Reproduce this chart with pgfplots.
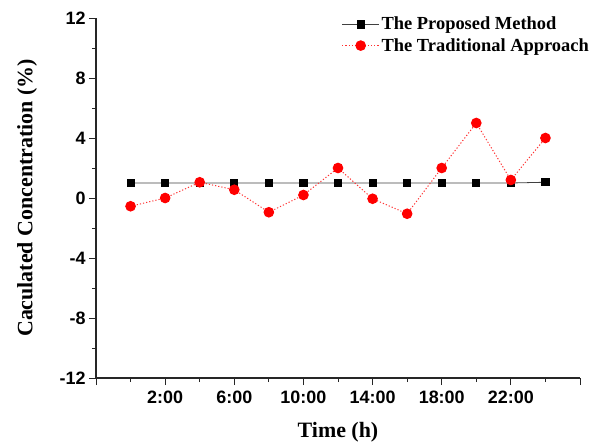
\documentclass[border=0pt]{standalone}
\usepackage{fontspec}
\setmainfont{Liberation Serif}
\newfontfamily\sansb{Liberation Sans}
\usepackage{pgfplots}
\pgfplotsset{compat=1.18}
\usetikzlibrary{calc}
\begin{document}
\begin{tikzpicture}
\begin{axis}[name=ax, scale only axis, width=484bp, height=360bp,
 xmin=-2, xmax=26, ymin=-12, ymax=12,
 axis lines*=left, axis line style={line width=1.1pt, black!85},
 xtick={-2,2,...,26}, xticklabels={,2:00,6:00,10:00,14:00,18:00,22:00,},
 minor xtick={0,4,...,24},
 ytick={-12,-8,...,12}, minor ytick={-10,-6,...,10},
 tick align=outside, major tick length=7bp, minor tick length=4bp,
 tick style={line width=1pt, black!85},
 /pgf/number format/assume math mode=true,
 ticklabel style={font=\fontsize{18}{20}\sansb\bfseries},
 xticklabel style={yshift=-2bp},
 xlabel={Time (h)}, ylabel={Caculated Concentration (\%)},
 xlabel style={at={(axis description cs:0.5,-0.15)}, anchor=center, font=\fontsize{22}{24}\selectfont\bfseries},
 ylabel style={at={(axis description cs:-0.1426,0.5)}, anchor=center, font=\fontsize{22}{24}\selectfont\bfseries},
 legend style={at={(1,1)}, anchor=north east, xshift=14bp, yshift=5bp, draw=none, fill=none,
   font=\fontsize{18.5}{20}\selectfont\bfseries, row sep=3bp},
 legend cell align=left,
 legend image code/.code={\draw[mark repeat=2,mark phase=2] plot coordinates {(0cm,0cm)(0.65cm,0cm)(1.3cm,0cm)};},
 clip=false,
]
\addplot[black!75, line width=0.8pt, mark=square*, mark size=3.6bp, mark options={solid, fill=black, draw=black}]
 coordinates {(0,1.0)(2,1.0)(4,1.0)(6,1.0)(8,1.0)(10,1.0)(12,1.0)(14,1.0)(16,1.0)(18,1.0)(20,1.0)(22,1.0)(24,1.05)};
\addlegendentry{The Proposed Method}
\addplot[red!80, line width=1pt, dash pattern=on 1.2pt off 2pt, mark=*, mark size=4.8bp, mark options={solid, fill=red, draw=red}]
 coordinates {(0,-0.55)(2,0)(4,1.05)(6,0.55)(8,-0.95)(10,0.2)(12,2.0)(14,-0.05)(16,-1.05)(18,2.0)(20,5.0)(22,1.2)(24,4.0)};
\addlegendentry{The Traditional Approach}
\end{axis}
\pgfresetboundingbox
\path ($(ax.south west)+(-96bp,-65bp)$) rectangle ($(ax.north east)+(12bp,18bp)$);
\end{tikzpicture}
\end{document}
